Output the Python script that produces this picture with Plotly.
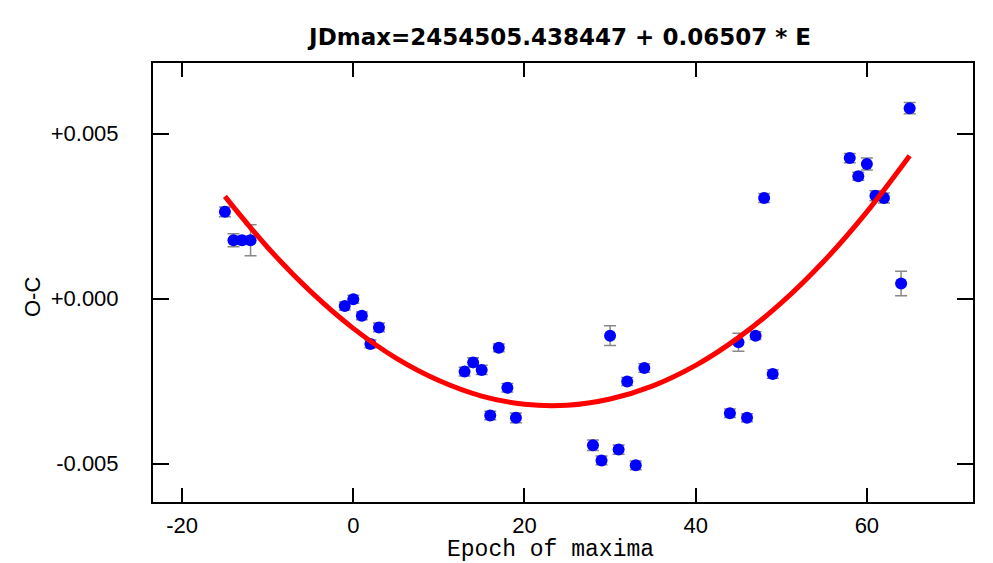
import plotly.graph_objects as go

# Observed maxima: epoch, O-C (days), error
epoch = [-15, -14, -13, -12, -1, 0, 1, 2, 3,
         13, 14, 15, 16, 17, 18, 19,
         28, 29, 30, 31, 32, 33, 34,
         44, 45, 46, 47, 48, 49,
         58, 59, 60, 61, 62, 64, 65]
o_c = [0.00263, 0.00177, 0.00177, 0.00177, -0.00022, -0.00002, -0.00052, -0.00137, -0.00087,
       -0.00221, -0.00193, -0.00216, -0.00354, -0.00149, -0.00270, -0.00361,
       -0.00444, -0.00490, -0.00112, -0.00457, -0.00251, -0.00505, -0.00210,
       -0.00347, -0.00132, -0.00361, -0.00112, 0.00305, -0.00228,
       0.00426, 0.00371, 0.00408, 0.00312, 0.00305, 0.00046, 0.00577]
err = [0.00015, 0.00020, 0.00013, 0.00047, 0.00012, 0.00012, 0.00012, 0.00012, 0.00013,
       0.00013, 0.00014, 0.00014, 0.00013, 0.00012, 0.00013, 0.00015,
       0.00016, 0.00013, 0.00030, 0.00014, 0.00012, 0.00013, 0.00013,
       0.00013, 0.00027, 0.00012, 0.00012, 0.00014, 0.00013,
       0.00014, 0.00012, 0.00018, 0.00015, 0.00015, 0.00037, 0.00017]

# Fitted quadratic curve, every 5 epochs
fit_epoch = [-15, -10, -5, 0, 5, 10, 15, 20, 25, 30, 35, 40, 45, 50, 55, 60, 65]
fit_oc = [0.00310, 0.00155, 0.00022, -0.00090, -0.00180, -0.00248, -0.00295, -0.00320,
          -0.00323, -0.00304, -0.00264, -0.00202, -0.00118, -0.00013, 0.00114, 0.00263, 0.00433]

x_ticks = [-20, 0, 20, 40, 60]
y_ticks = [0.005, 0.0, -0.005]
y_ticktext = ["+0.005", "+0.000", "-0.005"]

title_text = "JDmax=2454505.438447 + 0.06507 * E"
x_title = "Epoch of maxima"
y_title = "O-C"

fig = go.Figure()
fig.add_trace(go.Scatter(
    x=epoch, y=o_c, mode="markers",
    marker=dict(color="#0000ff", size=12, line=dict(width=0)),
    error_y=dict(type="data", array=err, visible=True, color="#888888", thickness=1.5, width=6),
    showlegend=False,
))
fig.add_trace(go.Scatter(
    x=fit_epoch, y=fit_oc, mode="lines",
    line=dict(color="#ff0000", width=5, shape="spline"),
    showlegend=False,
))

narrow = "Liberation Sans Narrow, Arial Narrow, Liberation Sans, sans-serif"

fig.update_layout(
    width=993, height=563,
    margin=dict(l=153, r=20, t=63, b=61, autoexpand=False),
    paper_bgcolor="white", plot_bgcolor="white",
    title=dict(text="<b>" + title_text + "</b>", x=560 / 993, xanchor="center",
               y=1 - 37 / 563, yanchor="middle", xref="container", yref="container",
               automargin=False,
               font=dict(family="DejaVu Sans, sans-serif", size=23, color="black")),
    xaxis=dict(
        range=[-23.4, 72.4], tickvals=x_ticks, ticktext=[str(v) for v in x_ticks],
        ticks="inside", ticklen=14, tickwidth=1.5, tickcolor="black",
        showline=True, linecolor="black", linewidth=2, mirror="allticks",
        showgrid=False, zeroline=False, automargin=False,
        tickfont=dict(family=narrow, size=22, color="black"),
        ticklabelstandoff=3,
    ),
    yaxis=dict(
        range=[-0.00616, 0.00714], tickvals=y_ticks, ticktext=y_ticktext,
        ticks="inside", ticklen=16, tickwidth=1.5, tickcolor="black",
        showline=True, linecolor="black", linewidth=2, mirror="allticks",
        showgrid=False, zeroline=False, automargin=False,
        tickfont=dict(family=narrow, size=22, color="black"),
        ticklabelstandoff=28,
    ),
    annotations=[
        dict(text=x_title, xref="paper", yref="paper", x=(550 - 153) / 820, y=-(550 - 502) / 439,
             xanchor="center", yanchor="middle", showarrow=False,
             font=dict(family="Courier New, Liberation Mono, monospace", size=23, color="black")),
        dict(text=y_title, xref="paper", yref="paper", x=-(153 - 32) / 820, y=(502 - 297) / 439,
             xanchor="center", yanchor="middle", showarrow=False, textangle=-90,
             font=dict(family=narrow, size=22, color="black")),
    ],
)

fig.write_html("out.html", config={"displayModeBar": False},
               post_script="document.body.style.margin='0';document.body.style.padding='0';")
